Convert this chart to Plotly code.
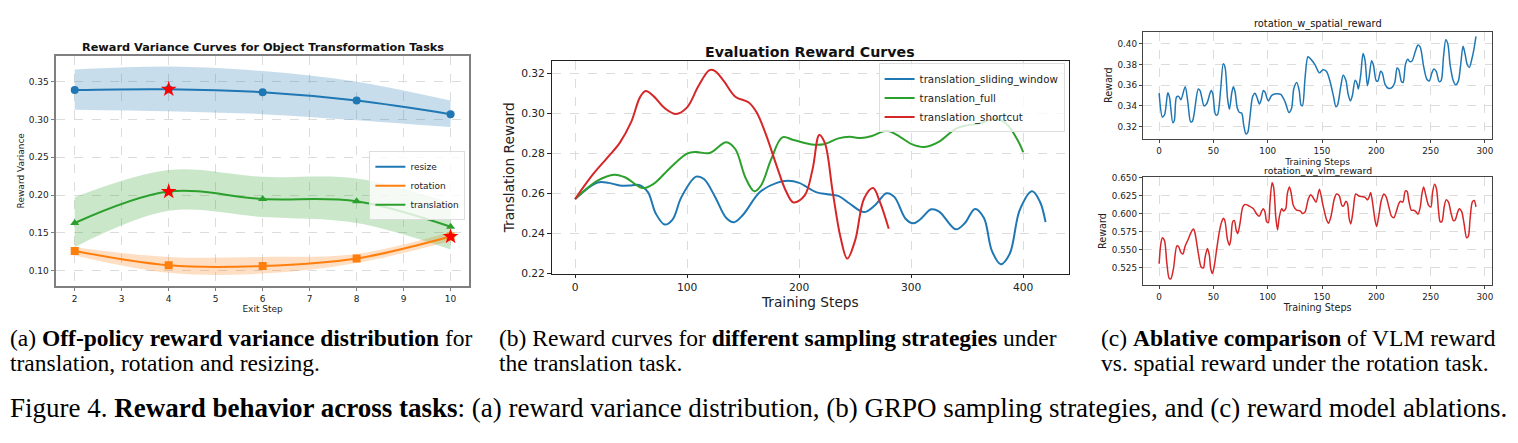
import plotly.graph_objects as go

W, H = 1518, 443

# ---------------- Panel (a) data ----------------
exit_steps = [2, 4, 6, 8, 10]
resize_mean = [0.339, 0.340, 0.336, 0.325, 0.307]
resize_upper = [0.366, 0.370, 0.364, 0.350, 0.325]
resize_lower = [0.313, 0.311, 0.307, 0.299, 0.290]
rotation_mean = [0.126, 0.107, 0.106, 0.116, 0.145]
rotation_upper = [0.131, 0.118, 0.118, 0.122, 0.151]
rotation_lower = [0.120, 0.097, 0.096, 0.110, 0.139]
translation_mean = [0.163, 0.2046, 0.1947, 0.1917, 0.158]
translation_upper = [0.197, 0.233, 0.224, 0.222, 0.190]
translation_lower = [0.131, 0.179, 0.171, 0.163, 0.128]
best_x = [4, 4, 10]
best_y = [0.340, 0.2046, 0.145]

# ---------------- Panel (b) data ----------------
sw_steps = [0, 20, 30, 40, 50, 57, 65, 72, 80, 87, 95, 108, 115, 125, 135, 142, 150, 165, 180, 190,
            200, 215, 225, 235, 245, 258, 268, 278, 285, 295, 302, 308, 318, 325, 340, 348, 357, 365,
            372, 380, 388, 397, 408, 415, 420]
sw_vals = [0.2572, 0.2655, 0.2653, 0.264, 0.264, 0.2643, 0.2607, 0.250, 0.2445, 0.247, 0.2583, 0.2684,
           0.2672, 0.2583, 0.2478, 0.2457, 0.2494, 0.2607, 0.2653, 0.2663, 0.2653, 0.2607, 0.2596,
           0.2588, 0.255, 0.2507, 0.2543, 0.2601, 0.2583, 0.2474, 0.2451, 0.247, 0.2521, 0.251,
           0.2421, 0.2453, 0.2523, 0.2478, 0.2315, 0.2247, 0.2299, 0.2518, 0.2611, 0.2559, 0.2457]
full_steps = [0, 20, 35, 45, 60, 70, 85, 100, 108, 120, 135, 143, 152, 160, 166, 175, 185, 195, 210,
              222, 235, 245, 255, 265, 278, 290, 300, 312, 325, 340, 350, 360, 375, 385, 395, 400]
full_vals = [0.2572, 0.2664, 0.2694, 0.268, 0.2627, 0.2648, 0.2729, 0.2799, 0.2807, 0.2802, 0.2856,
             0.2822, 0.268, 0.2611, 0.264, 0.277, 0.288, 0.2867, 0.2846, 0.2846, 0.2875, 0.2883,
             0.2877, 0.2887, 0.2913, 0.2883, 0.2848, 0.2832, 0.2859, 0.2924, 0.294, 0.2948, 0.2973,
             0.2948, 0.2867, 0.2807]
short_steps = [0, 15, 30, 40, 50, 58, 63, 70, 80, 90, 100, 110, 120, 125, 133, 143, 155, 162, 170,
               180, 188, 195, 205, 212, 218, 223, 230, 237, 243, 250, 258, 266, 272, 280]
short_vals = [0.2572, 0.2689, 0.2786, 0.2854, 0.2956, 0.3081, 0.3111, 0.3086, 0.3026, 0.2997, 0.303,
              0.3135, 0.3216, 0.3211, 0.3159, 0.3083, 0.3054, 0.3005, 0.29, 0.2737, 0.2615, 0.2555,
              0.2591, 0.2721, 0.2892, 0.2851, 0.2607, 0.238, 0.2275, 0.2366, 0.2575, 0.2627, 0.2559,
              0.2424]

# ---------------- Panel (c) data ----------------
spatial_steps = [0, 3, 5, 8, 9.5, 12.6, 14, 16, 18, 20, 24, 26.4, 29, 30.7, 36, 37.7, 41.4, 43.9, 47.9,
                 49.4, 52, 53.7, 56.7, 59, 60.7, 63, 64.7, 67, 68.4, 70, 72, 74, 76, 78, 80, 81.6, 83.7,
                 86, 88.3, 90, 92.3, 93.9, 96, 97.5, 100.6, 103.7, 108, 112, 116, 119.6, 122, 124,
                 126.7, 129, 130.7, 132, 134.4, 137, 139, 143.6, 147.6, 151, 154, 157.3, 160.4, 162.8,
                 164.3, 167.4, 169.5, 172, 174, 176.2, 178, 180.5, 182.3, 183.5, 185.7, 187.8, 189.6,
                 191.8, 193.3, 195.7, 197.3, 200, 201.5, 204, 205.5, 208, 211, 214.6, 217, 219.2,
                 220.7, 223.2, 224.7, 226.8, 229, 230.8, 232.9, 236, 238.4, 240.5, 243.6, 246.6,
                 248.8, 251.2, 253, 255.2, 257.9, 259.8, 261.9, 264, 265.9, 268, 271, 273.2, 275.6,
                 277.7, 279.9, 281.7, 283.8, 285.7, 287.8, 290, 291.8]
spatial_vals = [0.3524, 0.3294, 0.3315, 0.3527, 0.3487, 0.3237, 0.326, 0.3487, 0.3493, 0.346, 0.3586,
                0.344, 0.3247, 0.3253, 0.3564, 0.3549, 0.34, 0.3424, 0.3549, 0.3518, 0.3315, 0.3315,
                0.3564, 0.3807, 0.3773, 0.3471, 0.3368, 0.3533, 0.3586, 0.3533, 0.3378, 0.3337,
                0.3331, 0.3207, 0.3129, 0.3144, 0.33, 0.3487, 0.3524, 0.3487, 0.3418, 0.3455, 0.3549,
                0.3533, 0.3449, 0.3502, 0.3518, 0.3511, 0.344, 0.3337, 0.3378, 0.3564, 0.3627,
                0.3549, 0.3409, 0.3402, 0.3673, 0.3876, 0.386, 0.3798, 0.372, 0.3751, 0.3735,
                0.3642, 0.3502, 0.3393, 0.3409, 0.3596, 0.3698, 0.3648, 0.3518, 0.3449, 0.3502,
                0.3648, 0.3617, 0.3564, 0.3704, 0.3907, 0.3844, 0.3596, 0.3673, 0.3838, 0.3798,
                0.3642, 0.3642, 0.3735, 0.372, 0.3611, 0.3571, 0.358, 0.3627, 0.3767, 0.3751,
                0.3636, 0.3627, 0.3798, 0.3851, 0.3829, 0.3835, 0.3928, 0.399, 0.3969, 0.3782,
                0.3658, 0.3642, 0.372, 0.3757, 0.3735, 0.3636, 0.3648, 0.3876, 0.404, 0.40, 0.3798,
                0.3642, 0.3605, 0.3642, 0.3798, 0.3978, 0.3907, 0.3798, 0.3773, 0.3844, 0.3953,
                0.4072]
vlm_steps = [0, 1.5, 3, 5, 7, 9.2, 10.7, 13.2, 16.3, 17.8, 20, 21.8, 24, 27, 29.4, 31.6, 33, 36.2,
             38.7, 40.8, 42.3, 44.5, 46.3, 47.5, 49, 50.6, 53, 55.5, 57.7, 59.2, 60.7, 62.9, 64.7, 66,
             67.8, 69.3, 70.9, 72.4, 74.5, 77, 79, 83, 86.8, 89.9, 92.3, 94.5, 96, 97.5, 99, 100.6,
             102, 104, 105.5, 107.4, 109, 110.7, 112.9, 114.4, 116.6, 118, 120, 121.5, 123.6, 126.7,
             129.8, 132.2, 134.4, 137.4, 139.6, 142, 144.5, 147.6, 150.6, 154.3, 156, 158.2, 161.3,
             163.4, 165.9, 168.3, 169.8, 172, 173.5, 175, 176.5, 178.7, 181, 183.5, 186.3, 189.6,
             191.8, 193.3, 194.8, 196.3, 198.8, 200.3, 202.4, 204.6, 207, 209, 211.6, 214, 216.2,
             218.3, 220.7, 222.3, 224.4, 226.8, 228.4, 229.9, 232.3, 234.5, 236.6, 238.4, 240.5,
             242, 243.6, 245.7, 248.2, 250.3, 251.8, 253.7, 255.5, 257.3, 258.8, 260.4, 262.5,
             264.3, 266.5, 268.6, 271, 272.6, 275, 276.5, 278.7, 280.8, 283.2, 284.8, 286.3, 288.4,
             290.2, 291.8]
vlm_vals = [0.5306, 0.5577, 0.5667, 0.5622, 0.5329, 0.5104, 0.5095, 0.5239, 0.5554, 0.5545, 0.5464,
            0.5441, 0.5554, 0.5653, 0.5743, 0.5788, 0.5734, 0.5441, 0.5261, 0.5248, 0.5396, 0.5518,
            0.5419, 0.5239, 0.5171, 0.5261, 0.5509, 0.5757, 0.5892, 0.5937, 0.5892, 0.5644, 0.5563,
            0.5644, 0.5892, 0.5905, 0.5779, 0.5725, 0.5869, 0.6095, 0.6131, 0.6108, 0.6072, 0.5995,
            0.5968, 0.6041, 0.6072, 0.6027, 0.5892, 0.5878, 0.614, 0.6432, 0.6365, 0.5959, 0.5779,
            0.5959, 0.6072, 0.6041, 0.6072, 0.6275, 0.6374, 0.6297, 0.6117, 0.605, 0.6041, 0.6005,
            0.6027, 0.6207, 0.6266, 0.6221, 0.6162, 0.6342, 0.614, 0.5914, 0.5869, 0.5959, 0.6207,
            0.6275, 0.6252, 0.6117, 0.6108, 0.6176, 0.614, 0.5937, 0.586, 0.605, 0.6275, 0.6252,
            0.6239, 0.623, 0.6194, 0.623, 0.6297, 0.6185, 0.5914, 0.5824, 0.5982, 0.6185, 0.6275,
            0.6239, 0.6095, 0.5968, 0.5946, 0.6027, 0.614, 0.6176, 0.6162, 0.632, 0.6311, 0.6185,
            0.605, 0.605, 0.6027, 0.5995, 0.6095, 0.6275, 0.6374, 0.6252, 0.6117, 0.6095, 0.6297,
            0.641, 0.6342, 0.605, 0.5892, 0.5892, 0.6095, 0.6194, 0.6162, 0.6027, 0.5905, 0.5914,
            0.6027, 0.6072, 0.6027, 0.5869, 0.5667, 0.5689, 0.5914, 0.6162, 0.6185, 0.6095]

BLUE, ORANGE, GREEN, RED = "#1f77b4", "#ff7f0e", "#2ca02c", "#d62728"
FONT = "DejaVu Sans"
SERIF = "Liberation Serif"


def xdom(a, b):
    return [a / W, b / W]


def ydom(top, bottom):
    return [1 - bottom / H, 1 - top / H]


fig = go.Figure()

# ---- panel (a) ----
def band(xs, lo, hi, rgba):
    fig.add_trace(go.Scatter(x=xs, y=lo, mode="lines", line=dict(width=0, shape="spline"),
                             showlegend=False, hoverinfo="skip", xaxis="x", yaxis="y"))
    fig.add_trace(go.Scatter(x=xs, y=hi, mode="lines", line=dict(width=0, shape="spline"),
                             fill="tonexty", fillcolor=rgba, showlegend=False, hoverinfo="skip",
                             xaxis="x", yaxis="y"))


band(exit_steps, resize_lower, resize_upper, "rgba(31,119,180,0.25)")
band(exit_steps, rotation_lower, rotation_upper, "rgba(255,127,14,0.25)")
band(exit_steps, translation_lower, translation_upper, "rgba(44,160,44,0.25)")

for name, ys, col, sym in [("resize", resize_mean, BLUE, "circle"),
                           ("rotation", rotation_mean, ORANGE, "square"),
                           ("translation", translation_mean, GREEN, "triangle-up")]:
    fig.add_trace(go.Scatter(x=exit_steps, y=ys, mode="lines", name=name,
                             line=dict(color=col, width=2, shape="spline"),
                             xaxis="x", yaxis="y", legend="legend"))
    fig.add_trace(go.Scatter(x=exit_steps, y=ys, mode="markers", showlegend=False,
                             marker=dict(color=col, size=8, symbol=sym),
                             xaxis="x", yaxis="y"))
fig.add_trace(go.Scatter(x=best_x, y=best_y, mode="markers", showlegend=False,
                         marker=dict(color="red", size=12, symbol="star"), xaxis="x", yaxis="y"))

# ---- panel (b) ----
for name, xs, ys, col in [("translation_sliding_window", sw_steps, sw_vals, BLUE),
                          ("translation_full", full_steps, full_vals, GREEN),
                          ("translation_shortcut", short_steps, short_vals, RED)]:
    fig.add_trace(go.Scatter(x=xs, y=ys, mode="lines", name=name,
                             line=dict(color=col, width=2, shape="spline", smoothing=1.0),
                             xaxis="x2", yaxis="y2", legend="legend2"))

# ---- panel (c) ----
fig.add_trace(go.Scatter(x=spatial_steps, y=spatial_vals, mode="lines", showlegend=False,
                         line=dict(color=BLUE, width=1.5, shape="spline", smoothing=0.8),
                         xaxis="x3", yaxis="y3"))
fig.add_trace(go.Scatter(x=vlm_steps, y=vlm_vals, mode="lines", showlegend=False,
                         line=dict(color=RED, width=1.5, shape="spline", smoothing=0.8),
                         xaxis="x4", yaxis="y4"))


def ax(domain, rng, tickvals, fs, linecolor, lw, anchor, title=None, tsize=None, standoff=4, fmt=None):
    d = dict(domain=domain, range=rng, tickvals=tickvals, showline=True, mirror=True,
             linecolor=linecolor, linewidth=lw, ticks="outside", ticklen=3.5, tickwidth=0.8,
             tickcolor=linecolor, showgrid=True, gridcolor="#dcdcdc", griddash="dash",
             gridwidth=0.8, zeroline=False, anchor=anchor,
             tickfont=dict(family=FONT, size=fs, color="#222"))
    if fmt:
        d["tickformat"] = fmt
    if title:
        d["title"] = dict(text=title, font=dict(family=FONT, size=tsize, color="#222"),
                          standoff=standoff)
    return d


layout = dict(
    width=W, height=H, margin=dict(l=0, r=0, t=0, b=0),
    paper_bgcolor="white", plot_bgcolor="white",
    xaxis=ax(xdom(56, 470), [1.6, 10.4], [2, 3, 4, 5, 6, 7, 8, 9, 10], 9, "#7f7f7f", 1.6, "y",
             "Exit Step", 9, 2),
    yaxis=ax(ydom(53, 289), [0.0798, 0.3844], [0.10, 0.15, 0.20, 0.25, 0.30, 0.35], 9,
             "#7f7f7f", 1.6, "x", "Reward Variance", 9, 3, ".2f"),
    xaxis2=ax(xdom(552.3, 1070.5), [-21, 441], [0, 100, 200, 300, 400], 10.7, "#222", 1, "y2",
              "Training Steps", 13.7, 4),
    yaxis2=ax(ydom(58.3, 276.7), [0.2199, 0.3262], [0.22, 0.24, 0.26, 0.28, 0.30, 0.32], 10.7,
              "#222", 1, "x2", "Translation Reward", 13.7, 3, ".2f"),
    xaxis3=ax(xdom(1144.8, 1494), [-14.6, 306.6], [0, 50, 100, 150, 200, 250, 300], 8.8, "#444",
              1, "y3", "Training Steps", 9.2, 0),
    yaxis3=ax(ydom(28.3, 138.3), [0.3082, 0.4119], [0.32, 0.34, 0.36, 0.38, 0.40], 8.8, "#444",
              1, "x3", "Reward", 9.6, 3, ".2f"),
    xaxis4=ax(xdom(1144.8, 1494), [-14.6, 306.6], [0, 50, 100, 150, 200, 250, 300], 8.8, "#444",
              1, "y4", "Training Steps", 9.6, 1),
    yaxis4=ax(ydom(177.7, 288), [0.5013, 0.6508], [0.525, 0.55, 0.575, 0.60, 0.625, 0.65], 8.8,
              "#444", 1, "x4", "Reward", 9.6, 3, ".3f"),
    legend=dict(x=466 / W, xanchor="right", y=1 - 151 / H, yanchor="top", traceorder="normal",
                bgcolor="rgba(255,255,255,0.8)", bordercolor="#dddddd", borderwidth=1,
                font=dict(family=FONT, size=9, color="#222"), itemwidth=30, tracegroupgap=0),
    legend2=dict(x=1066 / W, xanchor="right", y=1 - 61 / H, yanchor="top", traceorder="normal",
                 bgcolor="rgba(255,255,255,0.8)", bordercolor="#dddddd", borderwidth=1,
                 font=dict(family=FONT, size=10.3, color="#222"), itemwidth=30, tracegroupgap=0),
    showlegend=True,
)
fig.update_layout(**layout)


def text(x, y, s, size, family=FONT, xanchor="center", color="#111"):
    fig.add_annotation(x=x / W, y=1 - y / H, xref="paper", yref="paper", text=s, showarrow=False,
                       xanchor=xanchor, yanchor="middle",
                       font=dict(family=family, size=size, color=color))


# subplot titles
text(263, 45, "<b>Reward Variance Curves for Object Transformation Tasks</b>", 11.3)
text(811.5, 49, "<b>Evaluation Reward Curves</b>", 14.2)
text(1320, 21, "rotation_w_spatial_reward", 9.8)
text(1320, 171, "rotation_w_vlm_reward", 9.4)

# captions
CAP = 23.5
FIGCAP = 27
text(8, 343, "(a) <b>Off-policy reward variance distribution</b> for", CAP, SERIF, "left", "#000")
text(8, 368, "translation, rotation and resizing.", CAP, SERIF, "left", "#000")
text(498, 343, "(b) Reward curves for <b>different sampling strategies</b> under", CAP, SERIF, "left", "#000")
text(498, 368, "the translation task.", CAP, SERIF, "left", "#000")
text(1100, 343, "(c) <b>Ablative comparison</b> of VLM reward", CAP, SERIF, "left", "#000")
text(1100, 368, "vs. spatial reward under the rotation task.", CAP, SERIF, "left", "#000")
text(8, 414, "Figure 4. <b>Reward behavior across tasks</b>: (a) reward variance distribution, "
     "(b) GRPO sampling strategies, and (c) reward model ablations.", FIGCAP, SERIF, "left", "#000")

fig.write_html("out.html")
